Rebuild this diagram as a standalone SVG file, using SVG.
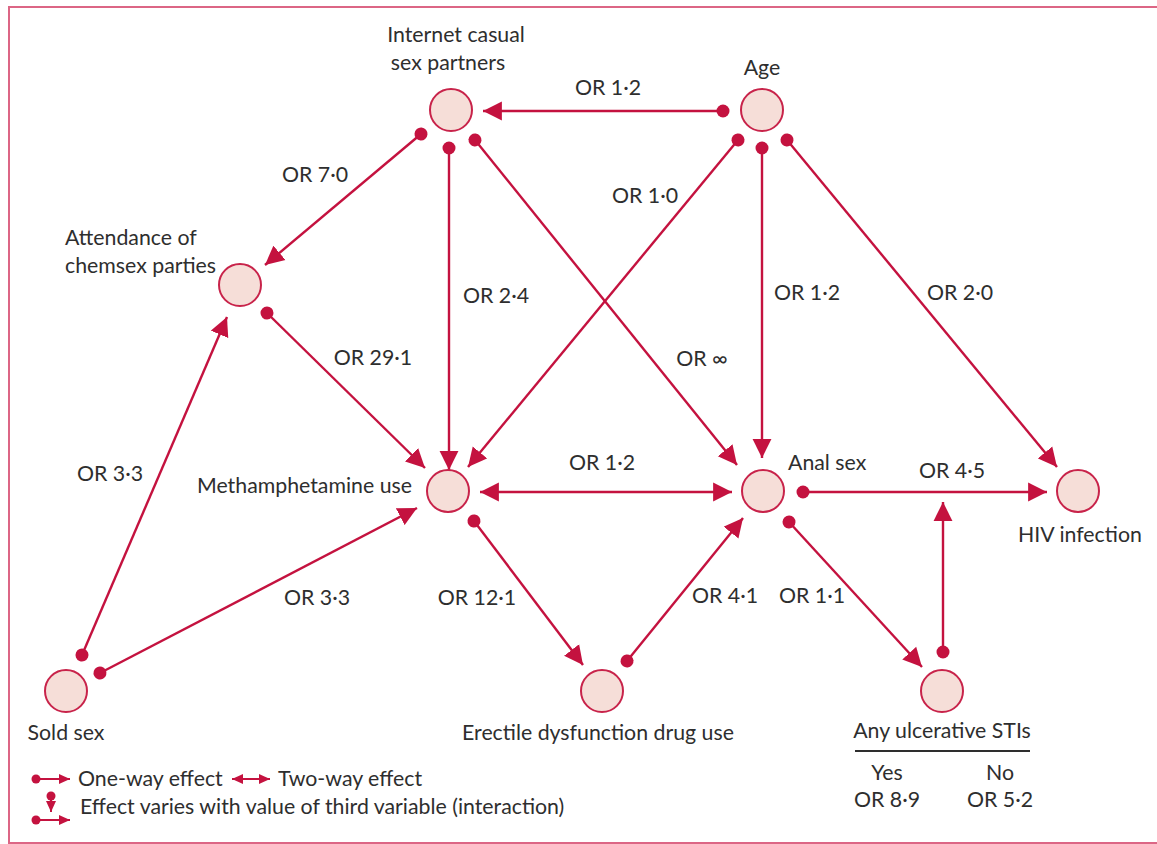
<svg xmlns="http://www.w3.org/2000/svg" width="1157" height="844" viewBox="0 0 1157 844">
<style>
text{font-family:Lato,"Open Sans","Liberation Sans",sans-serif;font-size:21.3px;fill:#2e2e2e}
.m{text-anchor:middle}
.e{text-anchor:end}
.node{fill:#f6ded8;stroke:#c8234a;stroke-width:2}
.c{stroke:#c4123f;stroke-width:2.4;fill:none;marker-end:url(#arr);marker-start:url(#dot)}
.two{marker-start:url(#arrS)}
.lg{stroke:#c4123f;stroke-width:2;fill:none;marker-end:url(#sarr);marker-start:url(#sdot)}
</style>
<defs>
<marker id="arr" markerUnits="userSpaceOnUse" markerWidth="20" markerHeight="20" viewBox="0 -9 18 18" refX="17" refY="0" orient="auto"><path d="M0,-8.5L17,0L0,8.5z" fill="#c4123f"/></marker>
<marker id="arrS" markerUnits="userSpaceOnUse" markerWidth="20" markerHeight="20" viewBox="0 -9 18 18" refX="17" refY="0" orient="auto-start-reverse"><path d="M0,-8.5L17,0L0,8.5z" fill="#c4123f"/></marker>
<marker id="dot" markerUnits="userSpaceOnUse" markerWidth="16" markerHeight="16" viewBox="-8 -8 16 16" refX="0" refY="0" orient="auto"><circle r="6.5" fill="#c4123f"/></marker>
<marker id="sarr" markerUnits="userSpaceOnUse" markerWidth="12" markerHeight="12" viewBox="0 -6 12 12" refX="11" refY="0" orient="auto-start-reverse"><path d="M0,-5L11,0L0,5z" fill="#c4123f"/></marker>
<marker id="sdot" markerUnits="userSpaceOnUse" markerWidth="10" markerHeight="10" viewBox="-5 -5 10 10" refX="0" refY="0" orient="auto"><circle r="4.5" fill="#c4123f"/></marker>
</defs>
<rect width="1157" height="844" fill="#ffffff"/>
<rect x="9" y="7" width="1160" height="836" fill="none" stroke="#dc6685" stroke-width="2"/>

<g id="connectors">
<line class="c" x1="723" y1="111" x2="483" y2="111"/>
<line class="c" x1="421" y1="134" x2="265" y2="265"/>
<line class="c" x1="449" y1="148" x2="449" y2="470"/>
<line class="c" x1="475" y1="140" x2="737" y2="465"/>
<line class="c" x1="738" y1="140" x2="468" y2="467"/>
<line class="c" x1="762" y1="148" x2="762" y2="458"/>
<line class="c" x1="787" y1="140" x2="1057" y2="467"/>
<line class="c" x1="267" y1="313" x2="425" y2="468"/>
<line class="c" x1="82" y1="655" x2="227" y2="317"/>
<line class="c" x1="100" y1="673" x2="417" y2="508"/>
<line class="c two" x1="480" y1="492" x2="732" y2="492"/>
<line class="c" x1="474" y1="521" x2="583" y2="665"/>
<line class="c" x1="627" y1="661" x2="743" y2="518"/>
<line class="c" x1="803" y1="492" x2="1047" y2="492"/>
<line class="c" x1="789" y1="522" x2="922" y2="667"/>
<line class="c" x1="943" y1="652" x2="943" y2="502"/>
</g>

<g id="internet"><circle class="node" cx="451" cy="110" r="21"/><text class="m" x="456" y="42">Internet casual</text><text class="m" x="448" y="70">sex partners</text></g>
<g id="age"><circle class="node" cx="762" cy="110" r="21"/><text class="m" x="762" y="75">Age</text></g>
<g id="chemsex"><circle class="node" cx="240" cy="285" r="21"/><text x="65" y="245">Attendance of</text><text x="65" y="273">chemsex parties</text></g>
<g id="meth"><circle class="node" cx="448" cy="491" r="21"/><text class="e" x="412" y="493">Methamphetamine use</text></g>
<g id="anal"><circle class="node" cx="763" cy="491" r="21"/><text x="788" y="470">Anal sex</text></g>
<g id="hiv"><circle class="node" cx="1078" cy="491" r="21"/><text class="m" x="1080" y="542">HIV infection</text></g>
<g id="sold"><circle class="node" cx="66" cy="691" r="21"/><text class="m" x="66" y="740">Sold sex</text></g>
<g id="ed"><circle class="node" cx="602" cy="691" r="21"/><text class="m" x="598" y="740">Erectile dysfunction drug use</text></g>
<g id="sti"><circle class="node" cx="942" cy="691" r="21"/><text class="m" x="942" y="738">Any ulcerative STIs</text>
<line x1="855" y1="751" x2="1030" y2="751" stroke="#2e2e2e" stroke-width="2"/>
<text class="m" x="887" y="780">Yes</text><text class="m" x="887" y="807">OR 8·9</text>
<text class="m" x="1000" y="780">No</text><text class="m" x="1000" y="807">OR 5·2</text></g>

<g id="labels">
<text class="m" x="608" y="95">OR 1·2</text>
<text class="m" x="315" y="182">OR 7·0</text>
<text class="m" x="645" y="203">OR 1·0</text>
<text class="m" x="496" y="303">OR 2·4</text>
<text class="m" x="807" y="300">OR 1·2</text>
<text class="m" x="960" y="300">OR 2·0</text>
<text class="m" x="373" y="365">OR 29·1</text>
<text class="m" x="702" y="366">OR ∞</text>
<text class="m" x="110" y="481">OR 3·3</text>
<text class="m" x="602" y="470">OR 1·2</text>
<text class="m" x="952" y="478">OR 4·5</text>
<text class="m" x="317" y="605">OR 3·3</text>
<text class="m" x="477" y="605">OR 12·1</text>
<text class="m" x="725" y="603">OR 4·1</text>
<text class="m" x="812" y="603">OR 1·1</text>
</g>

<g id="legend">
<line class="lg" x1="36" y1="779" x2="70" y2="779"/>
<text x="78" y="786">One-way effect</text>
<line class="lg" x1="232" y1="779" x2="270" y2="779" style="marker-start:url(#sarr)"/>
<text x="278" y="786">Two-way effect</text>
<line class="lg" x1="51" y1="796" x2="51" y2="812"/>
<line class="lg" x1="36" y1="820" x2="70" y2="820"/>
<text x="80" y="814">Effect varies with value of third variable (interaction)</text>
</g>
</svg>
